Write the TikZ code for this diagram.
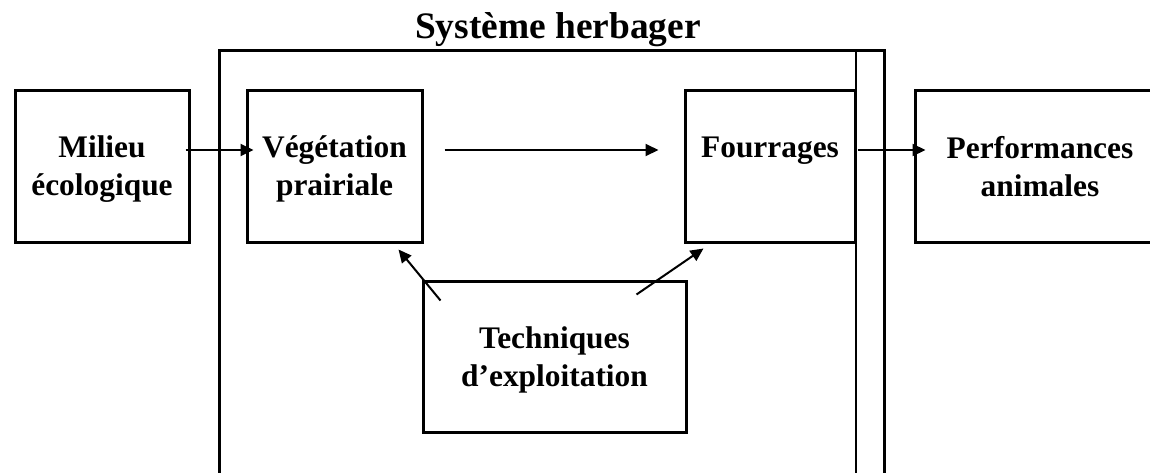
\documentclass[tikz,border=0pt]{standalone}
\usepackage{fontspec}
\setmainfont{Liberation Serif}
\usetikzlibrary{arrows.meta}

\begin{document}
\begin{tikzpicture}[x=0.5pt, y=-0.5pt,
    every node/.style={font=\bfseries\fontsize{15.7}{19}\selectfont, align=center},
    bloc/.style={draw, line width=1.5pt, inner sep=0pt, text depth=0pt, minimum width=#1, minimum height=76pt},
    fleche/.style={-{Triangle[length=6.5pt, width=6pt]}, line width=1pt}]
    \useasboundingbox (0,0) rectangle (1150,472);

    % Рамка системы
    \draw[line width=1.5pt] (219,480) |- (884,50) -- (884,480);
    \draw[line width=1pt] (856,50) -- (856,480);
    \node (titre) [font=\bfseries\fontsize{18.7}{22}\selectfont] at (558,30) {Système herbager};

    % Блоки
    \node (milieu) [bloc=87pt] at (102,166) {Milieu\\écologique};
    \node (vegetation) [bloc=87.5pt] at (334.5,166) {Végétation\\prairiale};
    \node (fourrages) [bloc=85pt] at (770,166) {Fourrages\\~};
    \node (perf) [bloc=125pt] at (1040,166) {Performances\\animales};
    \node (techniques) [bloc=131.5pt, minimum height=75.5pt] at (554.5,356.5) {Techniques\\d’exploitation};

    % Стрелки
    \draw[fleche] ([shift={(-5,-16)}]milieu.east) -- ([shift={(8,-16)}]vegetation.west);
    \draw[fleche] ([shift={(21,-16)}]vegetation.east) -- ([shift={(-25,-16)}]fourrages.west);
    \draw[fleche] ([shift={(1,-16)}]fourrages.east) -- ([shift={(12,-16)}]perf.west);
    \draw[fleche] ([shift={(19,21)}]techniques.north west) -- ([shift={(-25,6)}]vegetation.south east);
    \draw[fleche] ([shift={(-51,15)}]techniques.north east) -- ([shift={(20,5)}]fourrages.south west);
\end{tikzpicture}
\end{document}
